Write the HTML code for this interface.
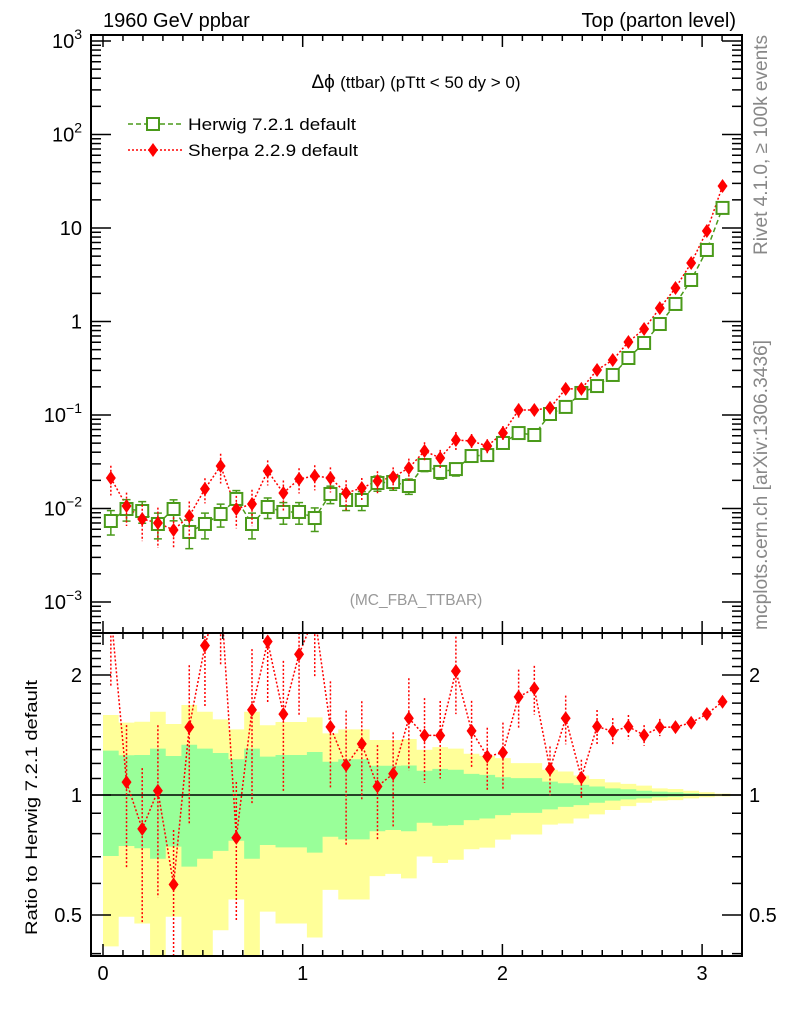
<!DOCTYPE html>
<html><head><meta charset="utf-8"><style>
html,body{margin:0;padding:0;background:#fff;}
svg{display:block;font-family:"Liberation Sans",Arial,sans-serif;}
</style></head><body>
<svg id="chart" width="786" height="1024" viewBox="0 0 786 1024" xmlns="http://www.w3.org/2000/svg">
<defs>
<clipPath id="mainClip"><rect x="91" y="35" width="651" height="598"/></clipPath>
<clipPath id="ratioClip"><rect x="91" y="633" width="651" height="323"/></clipPath>
</defs>
<text x="103" y="27" font-size="20">1960 GeV ppbar</text>
<text x="736" y="27" font-size="20" text-anchor="end">Top (parton level)</text>
<text x="416" y="88" font-size="19" text-anchor="middle">Δϕ <tspan font-size="17">(ttbar) (pTtt &lt; 50 dy &gt; 0)</tspan></text>
<text x="416" y="605" font-size="15.5" fill="#999" text-anchor="middle">(MC_FBA_TTBAR)</text>
<text transform="translate(767,255) rotate(-90)" font-size="19" fill="#888" textLength="220" lengthAdjust="spacingAndGlyphs">Rivet 4.1.0, ≥ 100k events</text>
<text transform="translate(767,630) rotate(-90)" font-size="19" fill="#888" textLength="290" lengthAdjust="spacingAndGlyphs">mcplots.cern.ch [arXiv:1306.3436]</text>
<text transform="translate(37,935) rotate(-90)" font-size="17" textLength="255" lengthAdjust="spacingAndGlyphs">Ratio to Herwig 7.2.1 default</text>
<g id="bands" clip-path="url(#ratioClip)"></g>
<g id="marks"></g>
<g id="axes"></g>
<g id="legend">
  <g>
    <line x1="128" y1="124" x2="184" y2="124" stroke="#4a9a1a" stroke-width="1.5" stroke-dasharray="5,3"/>
    <rect x="147" y="118" width="12" height="12" fill="#fff" stroke="#4a9a1a" stroke-width="2"/>
    <text x="188" y="130" font-size="17" textLength="168" lengthAdjust="spacingAndGlyphs">Herwig 7.2.1 default</text>
  </g>
  <g>
    <line x1="128" y1="150" x2="184" y2="150" stroke="#f00" stroke-width="1.5" stroke-dasharray="2,2"/>
    <polygon points="153,143 158,150 153,157 148,150" fill="#f00"/>
    <text x="188" y="156" font-size="17" textLength="170" lengthAdjust="spacingAndGlyphs">Sherpa 2.2.9 default</text>
  </g>
</g>
</svg>
<script>
const herwig=[0.00735,0.00988,0.0094,0.00683,0.00988,0.00561,0.00683,0.00873,0.01265,0.00683,0.01038,0.00918,0.00918,0.00791,0.0143,0.01233,0.01233,0.01875,0.0192,0.0174,0.0292,0.0246,0.0264,0.0364,0.0373,0.0502,0.0641,0.0611,0.1025,0.122,0.172,0.204,0.268,0.407,0.589,0.94,1.54,2.78,5.82,16.4];
const sherpa=[0.0212,0.01064,0.00773,0.0070,0.00589,0.0083,0.0162,0.0285,0.00988,0.01117,0.0252,0.01465,0.0207,0.0223,0.0212,0.01465,0.01656,0.0197,0.0217,0.0271,0.0412,0.0347,0.054,0.0527,0.0466,0.0641,0.113,0.113,0.119,0.19,0.19,0.303,0.387,0.604,0.832,1.39,2.28,4.22,9.29,28.1];
const sherpaRelErr=[0.35,0.39,0.42,0.46,0.37,0.43,0.3,0.35,0.38,0.42,0.3,0.36,0.3,0.3,0.3,0.37,0.28,0.27,0.27,0.26,0.24,0.22,0.22,0.19,0.18,0.19,0.17,0.14,0.14,0.14,0.11,0.1,0.08,0.07,0.06,0.05,0.03,0.02,0.02,0.02];
const greenUp=[1.292,1.258,1.26,1.307,1.253,1.337,1.307,1.275,1.229,1.307,1.248,1.26,1.26,1.282,1.212,1.229,1.229,1.184,1.184,1.186,1.150,1.163,1.157,1.130,1.123,1.108,1.102,1.102,1.080,1.070,1.06,1.05,1.039,1.034,1.025,1.02,1.016,1.01,1.006,1.002];
const greenDown=[0.703,0.745,0.735,0.692,0.742,0.661,0.692,0.724,0.768,0.692,0.749,0.739,0.739,0.717,0.786,0.774,0.774,0.811,0.817,0.811,0.852,0.837,0.840,0.865,0.873,0.890,0.902,0.902,0.920,0.934,0.943,0.956,0.968,0.975,0.981,0.987,0.99,0.994,0.996,0.998];
const yellowUp=[1.587,1.519,1.527,1.618,1.507,1.682,1.618,1.548,1.461,1.618,1.496,1.524,1.524,1.566,1.428,1.461,1.461,1.374,1.374,1.382,1.299,1.319,1.307,1.269,1.254,1.237,1.202,1.202,1.157,1.145,1.119,1.097,1.076,1.066,1.056,1.039,1.035,1.025,1.016,1.008];
const yellowDown=[0.417,0.495,0.476,0.35,0.495,0.35,0.35,0.458,0.547,0.35,0.51,0.476,0.476,0.439,0.578,0.547,0.547,0.626,0.634,0.618,0.701,0.675,0.688,0.731,0.738,0.773,0.796,0.796,0.843,0.848,0.873,0.894,0.917,0.938,0.956,0.968,0.971,0.981,0.987,0.992];
const xTicks=[0,1,2,3];
const yMainTicks=[1e-3,1e-2,1e-1,1,10,100,1000];
const yMainLabels=["10^-3","10^-2","10^-1","1","10","10^2","10^3"];
const yRatioTicks=[0.5,1,2];
const yRatioLabels=["0.5","1","2"];

const NS="http://www.w3.org/2000/svg";
const X=v=>103+199.7*v;
const Ym=v=>321.5-93.5*Math.log10(v);
const Yr=r=>795-120*Math.log2(r);
const nb=herwig.length, bw=Math.PI/nb;
const edge=k=>X(k*bw), ctr=i=>X((i+0.5)*bw);
function mk(tag,attrs,parent){const e=document.createElementNS(NS,tag);for(const k in attrs)e.setAttribute(k,attrs[k]);parent.appendChild(e);return e;}
const bands=document.getElementById('bands');
const marks=document.getElementById('marks');
const axes=document.getElementById('axes');

function bandPath(up,dn){let top='',bot='';for(let i=0;i<nb;i++){top+=(i?'L':'M')+edge(i)+','+Yr(up[i])+'L'+edge(i+1)+','+Yr(up[i]);}for(let i=nb-1;i>=0;i--){bot+='L'+edge(i+1)+','+Yr(dn[i])+'L'+edge(i)+','+Yr(dn[i]);}return top+bot+'Z';}
const yb=mk('path',{d:bandPath(yellowUp,yellowDown),fill:'#ffff99'},bands);


const gb=mk('path',{d:bandPath(greenUp,greenDown),fill:'#99ff99'},bands);


const one=mk('line',{x1:91,x2:742,y1:Yr(1),y2:Yr(1),stroke:'#000','stroke-width':1.5},bands);



const mg=mk('g',{'clip-path':'url(#mainClip)'},marks);


let hp='',sp='';
for(let i=0;i<nb;i++){hp+=(i?'L':'M')+ctr(i)+','+Ym(herwig[i]);sp+=(i?'L':'M')+ctr(i)+','+Ym(sherpa[i]);}
const hl=mk('path',{d:hp,fill:'none',stroke:'#4a9a1a','stroke-width':1.5,'stroke-dasharray':'5,3'},mg);


const sl=mk('path',{d:sp,fill:'none',stroke:'#f00','stroke-width':1.5,'stroke-dasharray':'2,2'},mg);


for(let i=0;i<nb;i++){
  const cx=ctr(i);
  const he=greenUp[i]-1;
  const hu=Ym(herwig[i]*(1+he)), hd=Ym(herwig[i]*Math.max(0.05,1-he));
  const g=mk('g',{},mg);
  
  
  mk('line',{x1:cx,x2:cx,y1:hu,y2:hd,stroke:'#4a9a1a','stroke-width':1.5},g);
  mk('line',{x1:cx-4,x2:cx+4,y1:hu,y2:hu,stroke:'#4a9a1a','stroke-width':1.5},g);
  mk('line',{x1:cx-4,x2:cx+4,y1:hd,y2:hd,stroke:'#4a9a1a','stroke-width':1.5},g);
  mk('rect',{x:cx-6,y:Ym(herwig[i])-6,width:12,height:12,fill:'#fff',stroke:'#4a9a1a','stroke-width':2},g);
  const se=sherpaRelErr[i];
  const su=Ym(sherpa[i]*(1+se)), sd=Ym(sherpa[i]*(1-se));
  const s=mk('g',{},mg);
  
  
  mk('line',{x1:cx,x2:cx,y1:su,y2:sd,stroke:'#f00','stroke-width':1.5,'stroke-dasharray':'2,2'},s);
  const sy=Ym(sherpa[i]);
  mk('polygon',{points:`${cx},${sy-7} ${cx+5},${sy} ${cx},${sy+7} ${cx-5},${sy}`,fill:'#f00'},s);
}
const rg=mk('g',{'clip-path':'url(#ratioClip)'},marks);


let rp='';
for(let i=0;i<nb;i++){rp+=(i?'L':'M')+ctr(i)+','+Yr(sherpa[i]/herwig[i]);}
const rl=mk('path',{d:rp,fill:'none',stroke:'#f00','stroke-width':1.5,'stroke-dasharray':'2,2'},rg);


for(let i=0;i<nb;i++){
  const cx=ctr(i), r=sherpa[i]/herwig[i], e=sherpaRelErr[i];
  const s=mk('g',{},rg);
  
  
  mk('line',{x1:cx,x2:cx,y1:Yr(r*(1+e)),y2:Yr(Math.max(0.05,r*(1-e))),stroke:'#f00','stroke-width':1.5,'stroke-dasharray':'2,2'},s);
  const y=Yr(r);
  mk('polygon',{points:`${cx},${y-7} ${cx+5},${y} ${cx},${y+7} ${cx-5},${y}`,fill:'#f00'},s);
}

const f1=mk('rect',{x:91,y:35,width:651,height:598,fill:'none',stroke:'#000','stroke-width':2},axes);


const f2=mk('rect',{x:91,y:633,width:651,height:323,fill:'none',stroke:'#000','stroke-width':2},axes);


const tk=mk('g',{stroke:'#000','stroke-width':1.5},axes);


for(let k=0;k<=32;k++){const v=k/10;if(v<-0.06||v>3.2)continue;const x=X(v);const L=(k%10===0)?12:6;
  for(const [y0,dir] of [[35,1],[633,-1],[633,1],[956,-1]]) mk('line',{x1:x,x2:x,y1:y0,y2:y0+dir*L},tk);}
xTicks.forEach(v=>{const t=mk('text',{x:X(v),y:980,'font-size':20,'text-anchor':'middle'},axes);t.textContent=String(v);
  
  });
for(let d=-4;d<=3;d++){for(let m=1;m<=9;m++){const v=m*Math.pow(10,d);const y=Ym(v);if(y<35||y>633)continue;const L=m===1?20:10;
  mk('line',{x1:91,x2:91+L,y1:y,y2:y},tk);mk('line',{x1:742,x2:742-L,y1:y,y2:y},tk);}}
yMainTicks.forEach((v,i)=>{const lab=yMainLabels[i];const t=mk('text',{x:82,y:Ym(v)+7,'font-size':20,'text-anchor':'end'},axes);
  
  
  if(lab.indexOf('^')>=0){const p=lab.split('^');const a=mk('tspan',{},t);a.textContent=p[0];const b=mk('tspan',{dy:-9,'font-size':14},t);b.textContent=p[1].replace('-','−');}
  else t.textContent=lab;});
for(const v of [0.4,0.5,0.6,0.7,0.8,0.9,1,1.1,1.2,1.3,1.4,1.5,1.6,1.7,1.8,1.9,2,2.1,2.2,2.3,2.4,2.5]){const y=Yr(v);if(y<633||y>956)continue;const L=(v===0.5||v===1||v===2)?20:10;
  mk('line',{x1:91,x2:91+L,y1:y,y2:y},tk);mk('line',{x1:742,x2:742-L,y1:y,y2:y},tk);}
yRatioTicks.forEach((v,i)=>{
  const t=mk('text',{x:82,y:Yr(v)+7,'font-size':20,'text-anchor':'end'},axes);t.textContent=yRatioLabels[i];
  
  
  const t2=mk('text',{x:749,y:Yr(v)+7,'font-size':20},axes);t2.textContent=yRatioLabels[i];
  
  });
</script>
</body></html>
